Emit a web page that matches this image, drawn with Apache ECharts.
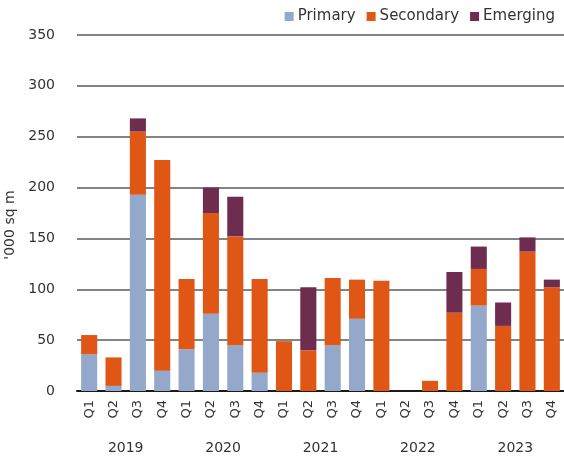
<!DOCTYPE html>
<html>
<head>
<meta charset="utf-8">
<title>Take-up by grade</title>
<script src="https://cdn.jsdelivr.net/npm/echarts@6/dist/echarts.min.js"></script>
<style>
  html, body { margin: 0; padding: 0; background: #fff; }
  #chart { width: 564px; height: 458px; }
</style>
</head>
<body>
<div id="chart"></div>
<script>
// Quarterly categories, grouped by year underneath
const years = ['2019', '2020', '2021', '2022', '2023'];
const quarters = ['Q1', 'Q2', 'Q3', 'Q4'];
const categories = years.flatMap(y => quarters.map(q => y + ' ' + q));

// Values in '000 sq m
const primary   = [36, 5, 193, 20,  41, 76, 45, 18,  0, 0, 45, 71,  0, 0, 0, 0,  84, 0, 0, 0];
const secondary = [19, 28, 62, 207, 69, 99, 107, 92, 49, 40, 66, 38.5, 108.5, 0, 10, 77, 36, 64, 137, 102];
const emerging  = [0, 0, 13, 0,     0, 25, 39, 0,    0, 62, 0, 0,    0, 0, 0, 40,  22, 23, 14, 7.5];

const yTicks = { min: 0, max: 350, interval: 50 };

const FONT = 'DejaVu Sans';
const TEXT = '#333333';

const chart = echarts.init(document.getElementById('chart'));

// Empty segments are left out rather than drawn with zero height
function barSeries(name, data, color) {
  return {
    name, type: 'bar', stack: 'total',
    data: data.map(v => (v === 0 ? '-' : v)),
    xAxisIndex: 0,
    barCategoryGap: '34%',
    itemStyle: { color },
    emphasis: { disabled: true }
  };
}

chart.setOption({
  animation: false,
  textStyle: { fontFamily: FONT },
  legend: {
    top: 4, right: 4,
    itemWidth: 9, itemHeight: 9, itemGap: 11,
    icon: 'rect',
    textStyle: { fontFamily: FONT, fontSize: 15, color: TEXT, padding: [0, 0, 0, -1] },
    data: ['Primary', 'Secondary', 'Emerging']
  },
  grid: { left: 77, right: 0, top: 35, bottom: 67, containLabel: false, outerBoundsMode: 'none' },
  xAxis: [
    {
      type: 'category',
      data: categories,
      axisLine: { lineStyle: { color: '#1a1a1a', width: 2 } },
      axisTick: { show: false },
      axisLabel: {
        rotate: 90, margin: 9, fontSize: 13, color: TEXT, fontFamily: FONT,
        interval: 0,
        formatter: v => v.split(' ')[1]
      }
    },
    {
      type: 'category',
      position: 'bottom',
      offset: 42,
      data: years,
      axisLine: { show: false },
      axisTick: { show: false },
      splitLine: { show: false },
      axisLabel: { margin: 8, fontSize: 14, color: TEXT, fontFamily: FONT }
    }
  ],
  yAxis: {
    type: 'value',
    min: yTicks.min, max: yTicks.max, interval: yTicks.interval,
    name: "'000 sq m",
    nameLocation: 'middle',
    nameGap: 53,
    nameRotate: 90,
    nameTextStyle: { fontSize: 14, color: TEXT, fontFamily: FONT, padding: [0, 0, 0, -24] },
    axisLine: { show: false },
    axisTick: { show: false },
    axisLabel: { margin: 22, fontSize: 14, color: TEXT, fontFamily: FONT },
    splitLine: { lineStyle: { color: '#5a5a5a', width: 1.5 } }
  },
  series: [
    barSeries('Primary', primary, '#93a8ca'),
    barSeries('Secondary', secondary, '#e05615'),
    barSeries('Emerging', emerging, '#6e2c4f')
  ]
});
</script>
</body>
</html>
